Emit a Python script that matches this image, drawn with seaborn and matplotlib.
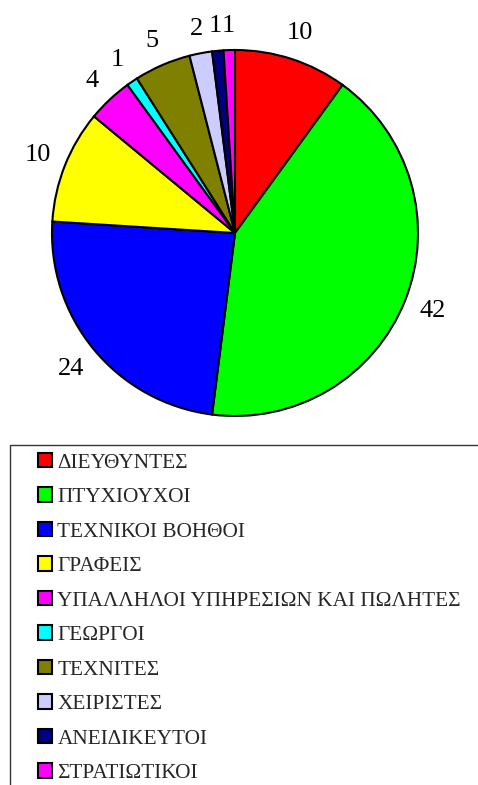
import matplotlib
matplotlib.use("Agg")
import matplotlib.pyplot as plt
import matplotlib.patches as mpatches
import numpy as np
import seaborn as sns

sns.set_theme(style="white")
plt.rcParams['font.family'] = ['Liberation Serif', 'DejaVu Serif']

categories = ["ΔΙΕΥΘΥΝΤΕΣ", "ΠΤΥΧΙΟΥΧΟΙ", "ΤΕΧΝΙΚΟΙ ΒΟΗΘΟΙ", "ΓΡΑΦΕΙΣ",
              "ΥΠΑΛΛΗΛΟΙ ΥΠΗΡΕΣΙΩΝ ΚΑΙ ΠΩΛΗΤΕΣ", "ΓΕΩΡΓΟΙ", "ΤΕΧΝΙΤΕΣ",
              "ΧΕΙΡΙΣΤΕΣ", "ΑΝΕΙΔΙΚΕΥΤΟΙ", "ΣΤΡΑΤΙΩΤΙΚΟΙ"]
values = [10, 42, 24, 10, 4, 1, 5, 2, 1, 1]
colors = ["#FF0000", "#00FF00", "#0000FF", "#FFFF00", "#FF00FF",
          "#00FFFF", "#808000", "#CCCCFF", "#000080", "#FF00FF"]

W, H = 478, 785
fig = plt.figure(figsize=(W / 100, H / 100), dpi=100)
fig.patch.set_facecolor("white")

# pie axes placed by pixel: center (235,233), radius 183
cx, cy, r = 235, 233, 183
ax = fig.add_axes([(cx - r) / W, (H - cy - r) / H, 2 * r / W, 2 * r / H])
wedges, texts = ax.pie(values, colors=colors, startangle=90, counterclock=False,
                       labels=[str(v) for v in values], labeldistance=1.1,
                       wedgeprops=dict(edgecolor="black", linewidth=1.5),
                       textprops=dict(fontsize=19, color="black"))
ax.set_xlim(-1, 1)
ax.set_ylim(-1, 1)
ax.set_aspect("equal")
ax.axis("off")

# put each label just outside the rim, like excel does (box edge a small gap off the circle)
fig.canvas.draw()
renderer = fig.canvas.get_renderer()
px_per_unit = r  # 1 data unit = r pixels
gap = 13 / px_per_unit
for w, t in zip(wedges, texts):
    ang = np.deg2rad((w.theta1 + w.theta2) / 2)
    dx, dy = np.cos(ang), np.sin(ang)
    bb = t.get_window_extent(renderer)
    half = (bb.width / 2 * abs(dx) + bb.height / 2 * abs(dy)) / px_per_unit
    d = 1 + gap + half
    t.set_position((d * dx, d * dy))
    t.set_ha("center")
    t.set_va("center")

# legend box (runs off right and bottom edges like the original)
box = mpatches.Rectangle((10 / W, -0.05), 1.0, (H - 445) / H + 0.05,
                         transform=fig.transFigure, fill=False,
                         edgecolor="#333333", linewidth=1.0)
fig.patches.append(box)

handles = [mpatches.Patch(facecolor=c, edgecolor="black", linewidth=1.5) for c in colors]
leg = fig.legend(handles, categories, loc="upper left",
                 bbox_to_anchor=(38 / W, (H - 453) / H), frameon=False,
                 fontsize=15.3, handlelength=0.66, handleheight=0.66,
                 handletextpad=0.25, labelspacing=0.70, borderpad=0,
                 borderaxespad=0)

fig.savefig("out.png", dpi=100, facecolor="white")
